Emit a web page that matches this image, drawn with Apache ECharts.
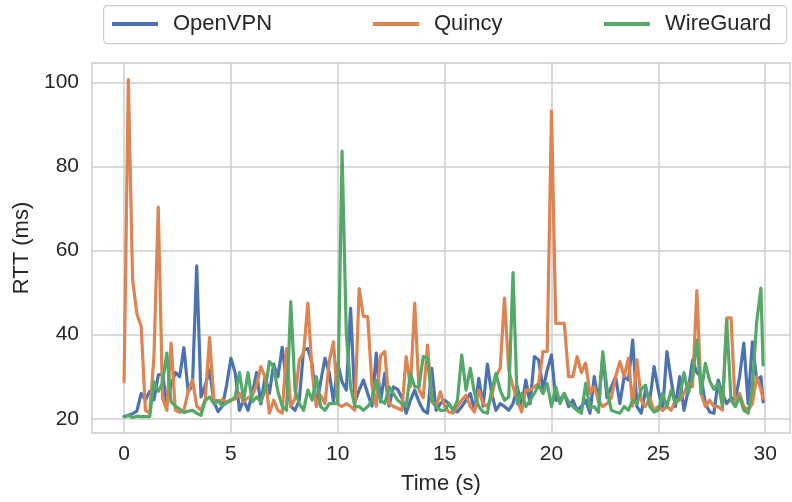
<!DOCTYPE html>
<html>
<head>
<meta charset="utf-8">
<script src="https://cdn.jsdelivr.net/npm/echarts@6/dist/echarts.min.js"></script>
<style>html,body{margin:0;padding:0;background:#fff}#c{width:792px;height:502px}</style>
</head>
<body>
<div id="c"></div>
<script>
const seriesNames = ['OpenVPN', 'Quincy', 'WireGuard'];
const times = [
0,0.2,0.4,0.6,0.8, 1,1.2,1.4,1.6,1.8, 2,2.2,2.4,2.6,2.8, 3,3.2,3.4,3.6,3.8,
4,4.2,4.4,4.6,4.8, 5,5.2,5.4,5.6,5.8, 6,6.2,6.4,6.6,6.8, 7,7.2,7.4,7.6,7.8,
8,8.2,8.4,8.6,8.8, 9,9.2,9.4,9.6,9.8, 10,10.2,10.4,10.6,10.8, 11,11.2,11.4,11.6,11.8,
12,12.2,12.4,12.6,12.8, 13,13.2,13.4,13.6,13.8, 14,14.2,14.4,14.6,14.8, 15,15.2,15.4,15.6,15.8,
16,16.2,16.4,16.6,16.8, 17,17.2,17.4,17.6,17.8, 18,18.2,18.4,18.6,18.8, 19,19.2,19.4,19.6,19.8,
20,20.2,20.4,20.6,20.8, 21,21.2,21.4,21.6,21.8, 22,22.2,22.4,22.6,22.8, 23,23.2,23.4,23.6,23.8,
24,24.2,24.4,24.6,24.8, 25,25.2,25.4,25.6,25.8, 26,26.2,26.4,26.6,26.8, 27,27.2,27.4,27.6,27.8,
28,28.2,28.4,28.6,28.8, 29,29.2,29.4,29.6,29.8, 29.9
];
const openvpn = [
20.5,20.8,21.2,21.8,26, 24.5,26.5,24.5,30.4,30.7, 23.5,28,31,30,36.9, 26.4,28,56.4,25.2,28,
31.6,24,21.7,23,28, 34.4,30.9,22,24.5,22, 26,31,23.5,30,26, 33,30,37,29,23,
22,24.4,36.3,36.7,33, 23,28.8,34.4,31,24, 33.2,28.8,26.8,46.3,24, 26.8,29.2,26,23,35.6,
24,30.8,23,27.6,27, 25,21.3,24.4,26.8,24, 22,21.3,32,22,23.6, 24.4,23.6,22,21.6,22.9,
24.4,26,22,29.6,23, 33,26,22,23.6,22.9, 22,23.6,27.6,22.9,29.2, 23.6,34.8,34,27,31.6,
35.2,24.4,24.4,26,22.9, 24.4,22,22.9,24.4,21.3, 30,24,34.8,25,27.6, 30,23.6,30,29.2,38.7,
22.9,21.3,26.8,24.4,32.4, 26.8,22,36,29.2,22.9, 30,22,26.8,34,31, 30,23.6,21.6,21.3,29.2,
26,23.6,25,24.4,30, 38,23.6,38.3,29.2,30, 24
];
const quincy = [
28.8,100.7,53,45,42, 22,21.3,34.8,70.4,25, 22,38,22,21.5,22, 26.5,29.3,23,22,24.7,
39.3,24.7,24,24.5,24, 24.5,24.7,26,24,25, 25.5,28,32.4,30,21.3, 24.4,22,21.3,36.7,22.9,
24.8,34,35.6,47.5,31, 22.9,25.6,23.6,33.6,38.3, 23.5,22.9,23.6,22.9,22, 51,44.3,44.3,28,23,
35,36,23.6,22.9,22.5, 22,34.8,27.6,47.5,26.8, 25,37.5,24,22.9,26.4, 22.9,21.6,21.3,23,24.4,
25.6,22.9,21.6,26.8,23.6, 22.9,25.2,30,32,48.7, 31.6,27.6,24.4,21.6,26.8, 26.8,27.6,28.4,36,36,
93.3,42.7,42.7,42.7,30, 30,34.8,31,33.2,26, 27.6,24.4,22.9,23.6,25, 30,33.6,30,34.4,23,
34,24.4,22.9,25,22, 22.9,22,22.9,22,24.4, 24.4,26,28.4,27.6,50.5, 26,22.9,24.4,22.9,22.9,
22,44,44,22.9,26, 22.9,22,23.6,30,27, 24.8
];
const wireguard = [
20.5,20.8,20.3,20.6,20.5, 20.5,20.5,28.8,26.5,28.5, 35.6,24,23,22.3,21.5, 21.8,22,21.3,20.8,24.3,
25.2,23.6,24.3,23,23.8, 24.3,25.2,31,24.5,31, 24,25.2,24,26.8,33.6, 32.4,26.4,23,22,47.9,
26.8,23.6,22,26.8,24.4, 30,22.9,22,23.6,23.6, 23.7,83.7,40,27.6,22.9, 22.9,22,22.9,24.4,29.2,
24.4,23.6,27.6,26,24.4, 23.6,22.9,30.8,27.6,27.6, 34.8,34.4,24.4,22.9,22, 22,23.6,22,24.4,35.2,
26.8,32,26,22.9,21.6, 21.3,26.8,30.8,26.8,24.4, 25.2,54.8,23.5,26,22.9, 24.4,26,28,26,28.4,
22.9,27.6,23.6,26,24, 22.9,22,21.3,28.4,22.5, 22.9,21.5,36,27,22, 21.6,21.3,22.9,22,24.4,
23.6,27,28,22.9,21.6, 22,26,22.9,26.8,23.6, 25,31,26,30,38.7, 26,33.2,29,27,28.4,
22.9,43.5,24.4,22.9,25.2, 22,21.3,27.6,43,51.1, 32.8
];
const xTicks = [0, 5, 10, 15, 20, 25, 30];
const yTicks = [20, 40, 60, 80, 100];
const colors = ['#4C72B0', '#DD8452', '#55A868'];
const values = [openvpn, quincy, wireguard];

const FONT = 'Liberation Sans, Arial, sans-serif';
const TXT = '#262626';
const chart = echarts.init(document.getElementById('c'), null, {renderer: 'canvas'});
const legendLefts = [112, 373, 604];
chart.setOption({
  animation: false,
  backgroundColor: '#ffffff',
  graphic: [{
    type: 'rect', left: 103, top: 5, z: 0,
    shape: {width: 683, height: 38, r: 4},
    style: {fill: '#ffffff', stroke: '#cccccc', lineWidth: 1.2}
  }],
  legend: seriesNames.map((n, i) => ({
    data: [n], left: legendLefts[i], top: 13, padding: 0,
    icon: 'rect', itemWidth: 46, itemHeight: 4,
    textStyle: {fontSize: 22, color: TXT, fontFamily: FONT, padding: [0, 0, 0, 10]},
    z: 5
  })),
  grid: {left: 92, right: 2, top: 63, bottom: 69, show: true, borderColor: '#cccccc', borderWidth: 1.5, backgroundColor: '#ffffff'},
  xAxis: {
    type: 'value', min: -1.5, max: 31.16,
    name: 'Time (s)', nameLocation: 'middle', nameGap: 40,
    nameTextStyle: {fontSize: 22, color: TXT, fontFamily: FONT},
    axisLine: {show: false}, axisTick: {show: false, customValues: xTicks},
    axisLabel: {customValues: xTicks, fontSize: 21, color: TXT, fontFamily: FONT, margin: 11},
    splitLine: {show: true, lineStyle: {color: '#cccccc', width: 1.5}}
  },
  yAxis: {
    type: 'value', min: 16.6, max: 104.67,
    name: 'RTT (ms)', nameLocation: 'middle', nameGap: 58, nameRotate: 90,
    nameTextStyle: {fontSize: 22, color: TXT, fontFamily: FONT},
    axisLine: {show: false}, axisTick: {show: false, customValues: yTicks},
    axisLabel: {customValues: yTicks, fontSize: 21, color: TXT, fontFamily: FONT, margin: 13},
    splitLine: {show: true, lineStyle: {color: '#cccccc', width: 1.5}}
  },
  series: seriesNames.map((n, i) => ({
    name: n, type: 'line', symbol: 'none', showSymbol: false,
    color: colors[i],
    data: times.map((t, k) => [t, values[i][k]]),
    lineStyle: {width: 3.2, color: colors[i], cap: 'round', join: 'round'},
    emphasis: {disabled: true}
  }))
});
</script>
</body>
</html>
